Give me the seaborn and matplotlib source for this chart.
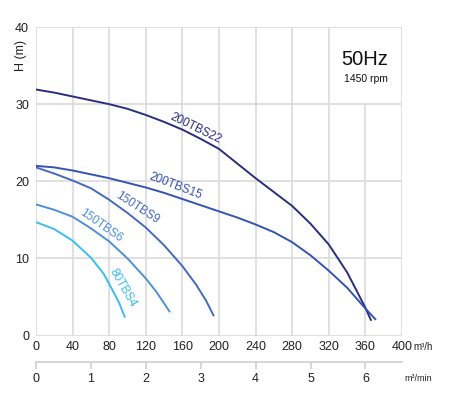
import pandas as pd
import matplotlib
matplotlib.use('Agg')
import matplotlib.pyplot as plt
import seaborn as sns

# pump curves: flow (m3/h) vs head (m)
models = ['200TBS22', '200TBS15', '150TBS9', '150TBS6', '80TBS4']
colors = ['#2b2d7d', '#3553b1', '#4669bf', '#4f90d7', '#3bbdf0']

q_200tbs22 = [0, 20, 40, 60, 80, 100, 120, 140, 160, 180, 200, 220, 240,
              260, 280, 300, 320, 340, 350, 360, 366]
h_200tbs22 = [31.9, 31.5, 31.0, 30.5, 30.0, 29.4, 28.6, 27.7, 26.7, 25.5, 24.2,
              22.3, 20.4, 18.6, 16.8, 14.5, 11.8, 8.2, 5.9, 3.6, 2.0]

q_200tbs15 = [0, 20, 40, 60, 80, 100, 120, 140, 160, 180, 200, 220, 240,
              260, 280, 300, 320, 340, 360, 371]
h_200tbs15 = [22.0, 21.8, 21.4, 20.9, 20.4, 19.8, 19.2, 18.5, 17.7, 16.9, 16.1,
              15.3, 14.4, 13.4, 12.1, 10.4, 8.4, 6.2, 3.5, 2.1]

q_150tbs9 = [0, 20, 40, 60, 80, 100, 120, 140, 160, 175, 186, 194]
h_150tbs9 = [21.8, 21.0, 20.1, 19.1, 17.6, 15.9, 14.0, 11.7, 9.0, 6.6, 4.5, 2.6]

q_150tbs6 = [0, 20, 40, 60, 80, 100, 120, 132, 146]
h_150tbs6 = [17.0, 16.3, 15.4, 13.9, 12.2, 10.0, 7.4, 5.6, 3.1]

q_80tbs4 = [0, 20, 40, 60, 74, 84, 91, 97]
h_80tbs4 = [14.7, 13.8, 12.3, 10.1, 8.0, 5.8, 4.2, 2.4]

x_ticks = list(range(0, 401, 40))
y_ticks = [0, 10, 20, 30, 40]
min_ticks = [0, 1, 2, 3, 4, 5, 6]

df = pd.concat([
    pd.DataFrame({'Q': q, 'H': h, 'model': m})
    for q, h, m in [(q_200tbs22, h_200tbs22, models[0]),
                    (q_200tbs15, h_200tbs15, models[1]),
                    (q_150tbs9, h_150tbs9, models[2]),
                    (q_150tbs6, h_150tbs6, models[3]),
                    (q_80tbs4, h_80tbs4, models[4])]
])

sns.set_style('white')
plt.rcParams['font.family'] = ['Liberation Sans Narrow', 'Liberation Sans', 'DejaVu Sans']

fig = plt.figure(figsize=(4.56, 3.98), dpi=100)
ax = fig.add_axes([0.0789, 0.157, 0.8027, 0.775])

grid_c = '#dadada'
for x in x_ticks:
    ax.plot([x, x], [0, 30 if x == 360 else 40], color=grid_c, lw=1.2, zorder=0)
for y in y_ticks:
    ax.plot([0, 400], [y, y], color=grid_c, lw=1.2, zorder=0)

sns.lineplot(data=df, x='Q', y='H', hue='model', hue_order=models,
             palette=colors, sort=False, estimator=None, legend=False,
             lw=1.4, ax=ax)

ax.set_xlim(0, 400)
ax.set_ylim(0, 40)
ax.set_xticks(x_ticks)
ax.set_yticks(y_ticks)
ax.set_xlabel('')
ax.set_ylabel('')
for s in ax.spines.values():
    s.set_visible(False)
ax.tick_params(axis='both', length=0, labelsize=9, colors='#222222')
ax.tick_params(axis='x', pad=4)
ax.tick_params(axis='y', pad=5)

# curve labels
labels = [
    ('200TBS22', 174, 26.9, -26, colors[0]),
    ('200TBS15', 152.6, 19.3, -21, colors[1]),
    ('150TBS9', 111, 16.5, -33, colors[2]),
    ('150TBS6', 71, 14.3, -35, colors[3]),
    ('80TBS4', 95, 6.2, -60, colors[4]),
]
for txt, x, y, rot, c in labels:
    ax.text(x, y, txt, rotation=rot, color=c, fontsize=8.5,
            ha='center', va='center', rotation_mode='anchor')

ax.text(359.6, 35.8, '50Hz', fontsize=14.5, ha='center', va='center', color='#111111')
ax.text(360.7, 33.3, '1450 rpm', fontsize=7.5, ha='center', va='center', color='#111111')
ax.text(-16.7, 36.3, 'H (m)', rotation=90, fontsize=9, ha='center', va='center', color='#222222')
ax.text(412, -1.45, 'm³/h', fontsize=7, ha='left', va='center', color='#222222', clip_on=False)
ax.text(403, -5.55, 'm³/min', fontsize=6.5, ha='left', va='center', color='#222222', clip_on=False)

# second flow scale in m3/min
sec = ax.secondary_xaxis(-0.085, functions=(lambda q: q / 60, lambda m: m * 60))
sec.set_xticks(min_ticks)
sec.spines['bottom'].set_color('#cfcfcf')
sec.spines['bottom'].set_linewidth(1.2)
sec.tick_params(axis='x', length=5, width=1.2, color='#cfcfcf', labelsize=9,
                labelcolor='#222222', pad=3)

fig.savefig('out.png', dpi=100)
